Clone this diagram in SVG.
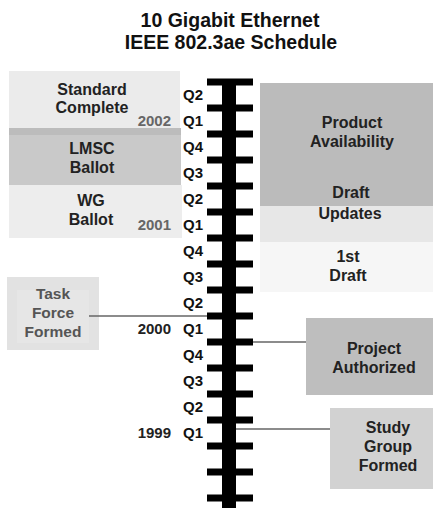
<svg xmlns="http://www.w3.org/2000/svg" width="433" height="508" viewBox="0 0 433 508">
<defs>
<style>
text{font-family:"Liberation Sans",Arial,sans-serif;font-weight:bold;}
.title{font-size:19.5px;fill:#111;text-anchor:middle;}
.q{font-size:15px;fill:#111;}
.yr{font-size:15px;text-anchor:end;}
.lbl{font-size:16px;fill:#222;text-anchor:middle;}
.conn{stroke:#666;stroke-width:1.3;fill:none;}
.tick{fill:#000;}
</style>
</defs>
<rect width="433" height="508" fill="#fff"/>
<g id="title">
<text class="title" x="230" y="27">10 Gigabit Ethernet</text>
<text class="title" x="231" y="49">IEEE 802.3ae Schedule</text>
</g>
<g id="standard-complete">
<rect x="9" y="71" width="171" height="57" fill="#ebebeb"/>
<text class="lbl" x="92" y="95">Standard</text>
<text class="lbl" x="92" y="113">Complete</text>
</g>
<g id="lmsc-ballot">
<rect x="9" y="128" width="172" height="57" fill="#c9c9c9"/>
<rect x="9" y="128" width="172" height="7" fill="#bcbcbc"/>
<text class="lbl" x="92" y="154">LMSC</text>
<text class="lbl" x="92" y="173">Ballot</text>
</g>
<g id="wg-ballot">
<rect x="9" y="185" width="173" height="53" fill="#ededed"/>
<text class="lbl" x="91" y="206">WG</text>
<text class="lbl" x="91" y="225">Ballot</text>
</g>
<g id="product-availability">
<rect x="260" y="83" width="173" height="123" fill="#bbbbbb"/>
<text class="lbl" x="352" y="128">Product</text>
<text class="lbl" x="352" y="147">Availability</text>
</g>
<g id="draft-updates">
<rect x="260" y="206" width="173" height="36" fill="#e7e7e7"/>
<text class="lbl" x="351" y="198">Draft</text>
<text class="lbl" x="350" y="219">Updates</text>
</g>
<g id="first-draft">
<rect x="260" y="242" width="173" height="50" fill="#f6f6f6"/>
<text class="lbl" x="348" y="262">1st</text>
<text class="lbl" x="348" y="281">Draft</text>
</g>
<g id="task-force-formed">
<rect x="7" y="277" width="92" height="73" fill="#e2e2e2"/>
<rect x="17" y="290" width="72" height="53" fill="#e6e6e6"/>
<text class="lbl" x="53" y="299" style="fill:#555;font-size:15.5px">Task</text>
<text class="lbl" x="53" y="318" style="fill:#555;font-size:15.5px">Force</text>
<text class="lbl" x="53" y="337" style="fill:#555;font-size:15.5px">Formed</text>
</g>
<g id="project-authorized">
<rect x="306" y="318" width="127" height="77" fill="#bebebe"/>
<text class="lbl" x="374" y="354">Project</text>
<text class="lbl" x="374" y="373">Authorized</text>
</g>
<g id="study-group-formed">
<rect x="330" y="408" width="103" height="81" fill="#d2d2d2"/>
<text class="lbl" x="388" y="433">Study</text>
<text class="lbl" x="388" y="452">Group</text>
<text class="lbl" x="388" y="471">Formed</text>
</g>
<g id="timeline">
<rect x="222" y="79" width="14" height="429" fill="#000"/>
<rect class="tick" x="207" y="78.5" width="46" height="7"/>
<rect class="tick" x="207" y="104.5" width="46" height="7"/>
<rect class="tick" x="207" y="130.5" width="46" height="7"/>
<rect class="tick" x="207" y="156.5" width="46" height="7"/>
<rect class="tick" x="207" y="182.5" width="46" height="7"/>
<rect class="tick" x="207" y="208.5" width="46" height="7"/>
<rect class="tick" x="207" y="234.5" width="46" height="7"/>
<rect class="tick" x="207" y="260.5" width="46" height="7"/>
<rect class="tick" x="207" y="286.5" width="46" height="7"/>
<rect class="tick" x="207" y="312.5" width="46" height="7"/>
<rect class="tick" x="207" y="338.5" width="46" height="7"/>
<rect class="tick" x="207" y="364.5" width="46" height="7"/>
<rect class="tick" x="207" y="390.5" width="46" height="7"/>
<rect class="tick" x="207" y="416.5" width="46" height="7"/>
<rect class="tick" x="207" y="442.5" width="46" height="7"/>
<rect class="tick" x="207" y="468.5" width="46" height="7"/>
<rect class="tick" x="207" y="494.5" width="46" height="7"/>
</g>
<g id="quarters">
<text class="q" x="183" y="100">Q2</text>
<text class="q" x="183" y="126">Q1</text>
<text class="q" x="183" y="152">Q4</text>
<text class="q" x="183" y="178">Q3</text>
<text class="q" x="183" y="204">Q2</text>
<text class="q" x="183" y="230">Q1</text>
<text class="q" x="183" y="256">Q4</text>
<text class="q" x="183" y="282">Q3</text>
<text class="q" x="183" y="308">Q2</text>
<text class="q" x="183" y="334">Q1</text>
<text class="q" x="183" y="360">Q4</text>
<text class="q" x="183" y="386">Q3</text>
<text class="q" x="183" y="412">Q2</text>
<text class="q" x="183" y="438">Q1</text>
</g>
<g id="years">
<text class="yr" x="171" y="126" fill="#666">2002</text>
<text class="yr" x="171" y="230" fill="#666">2001</text>
<text class="yr" x="171" y="334" fill="#222">2000</text>
<text class="yr" x="171" y="438" fill="#222">1999</text>
</g>
<g id="connectors">
<line class="conn" x1="89" y1="316" x2="207" y2="316"/>
<line class="conn" x1="253" y1="342" x2="306" y2="342"/>
<line class="conn" x1="236" y1="429" x2="330" y2="429"/>
</g>
</svg>
